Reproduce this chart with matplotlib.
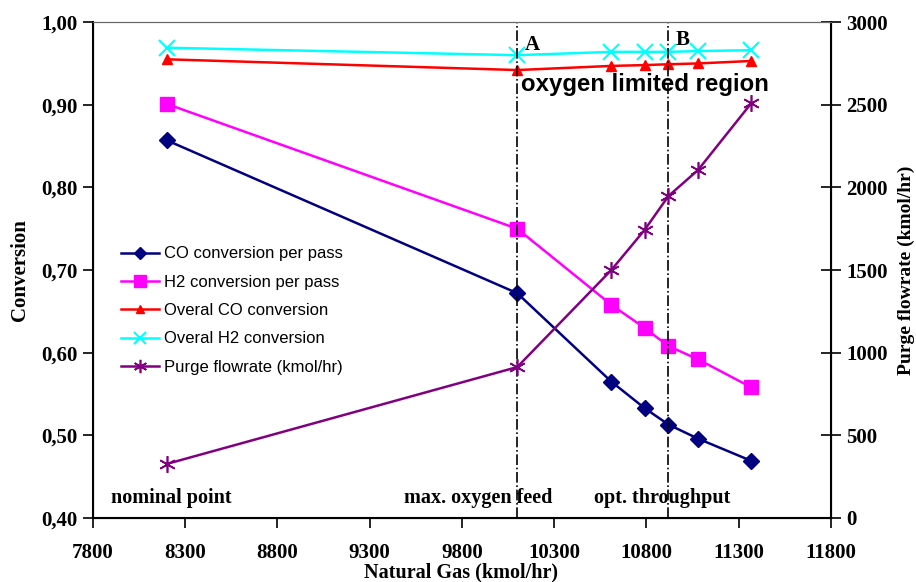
import matplotlib
matplotlib.use('Agg')
import matplotlib.pyplot as plt
from matplotlib.ticker import FuncFormatter

# data
natgas = [8200, 10100, 10610, 10790, 10920, 11080, 11370]
co_pass = [0.857, 0.672, 0.565, 0.533, 0.513, 0.496, 0.469]
h2_pass = [0.901, 0.750, 0.658, 0.630, 0.608, 0.592, 0.558]
co_overall = [0.955, 0.942, 0.947, 0.948, 0.949, 0.950, 0.953]
h2_overall = [0.969, 0.960, 0.964, 0.964, 0.964, 0.965, 0.966]
purge = [327, 913, 1500, 1742, 1948, 2105, 2511]

point_a = 10100
point_b = 10920

serif = 'Liberation Serif'
sans = 'Liberation Sans'

fig = plt.figure(figsize=(9.16, 5.82), dpi=100)
ax = fig.add_axes([0.1015, 0.110, 0.8055, 0.852])
ax2 = ax.twinx()

l1, = ax.plot(natgas, co_pass, color='#000080', marker='D', ms=8, lw=1.8, label='CO conversion per pass')
l2, = ax.plot(natgas, h2_pass, color='#FF00FF', marker='s', ms=10, lw=1.8, label='H2 conversion per pass')
l3, = ax.plot(natgas, co_overall, color='#FF0000', marker='^', ms=7, lw=1.8, label='Overal CO conversion')
l4, = ax.plot(natgas, h2_overall, color='#00FFFF', marker='x', ms=11, mew=1.5, lw=1.8, label='Overal H2 conversion')
l5, = ax2.plot(natgas, purge, color='#800080', marker=(6, 2, 0), ms=12, mew=1.2, lw=1.8, label='Purge flowrate (kmol/hr)')

for xv in (point_a, point_b):
    ax.axvline(xv, color='black', ls='-.', lw=1.2)

ax.set_xlim(7800, 11800)
ax.set_ylim(0.40, 1.00)
ax2.set_ylim(0, 3000)
ax.set_xticks(range(7800, 11801, 500))
ax.set_yticks([0.4, 0.5, 0.6, 0.7, 0.8, 0.9, 1.0])
ax2.set_yticks(range(0, 3001, 500))
ax.yaxis.set_major_formatter(FuncFormatter(lambda v, p: ('%.2f' % v).replace('.', ',')))

for a in (ax, ax2):
    for lab in a.get_xticklabels() + a.get_yticklabels():
        lab.set_fontfamily(serif)
        lab.set_fontweight('bold')
        lab.set_fontsize(15)

ax.tick_params(axis='x', direction='out', length=7, width=1.2, pad=11)
ax.tick_params(axis='y', direction='out', length=7, width=1.2, pad=4)
ax2.tick_params(axis='y', direction='inout', length=14, width=1.2, pad=4)
ax.spines['top'].set_color('#666666')
ax2.spines['top'].set_color('#666666')
for s in ('left', 'bottom'):
    ax.spines[s].set_linewidth(1.5)
ax2.spines['right'].set_linewidth(1.5)

# axis titles placed by hand so they stay inside the canvas
fig.text(0.503, 0.016, 'Natural Gas (kmol/hr)', fontfamily=serif, fontweight='bold',
         fontsize=14.5, ha='center', va='center')
fig.text(0.022, 0.536, 'Conversion', fontfamily=serif, fontweight='bold', fontsize=15,
         rotation=90, ha='center', va='center')
fig.text(0.990, 0.536, 'Purge flowrate (kmol/hr)', fontfamily=serif, fontweight='bold', fontsize=14,
         rotation=90, ha='center', va='center')

ax.text(point_a + 40, 0.985, 'A', fontfamily=serif, fontweight='bold', fontsize=15, va='top')
ax.text(point_b + 40, 0.991, 'B', fontfamily=serif, fontweight='bold', fontsize=15, va='top')
ax.text(point_a + 20, 0.924, 'oxygen limited region', fontfamily=sans, fontweight='bold', fontsize=17.3, va='center')

ax.text(7900, 0.418, 'nominal point', fontfamily=serif, fontweight='bold', fontsize=14.5)
ax.text(9486, 0.418, 'max. oxygen feed', fontfamily=serif, fontweight='bold', fontsize=14.5)
ax.text(10515, 0.418, 'opt. throughput', fontfamily=serif, fontweight='bold', fontsize=14.5)

leg = ax.legend(handles=[l1, l2, l3, l4, l5], loc='upper left', bbox_to_anchor=(0.017, 0.578),
                frameon=False, prop={'family': sans, 'size': 12}, handlelength=2.3,
                handletextpad=0.3, labelspacing=0.8, markerscale=0.8)

fig.savefig('out.png', dpi=100)
